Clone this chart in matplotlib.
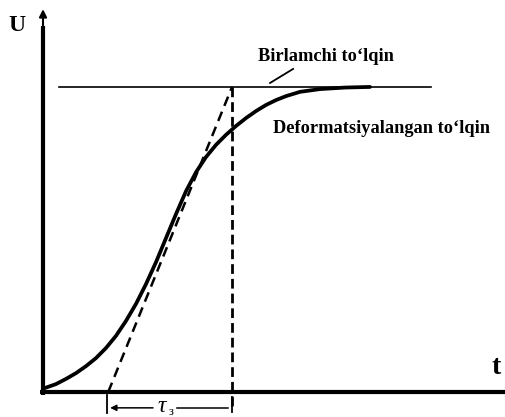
import matplotlib
matplotlib.use("Agg")
import matplotlib.pyplot as plt

# Distorted (deformed) wave front U(t), normalised so the steady level is 1
t_curve = [0.01, 0.069, 0.122, 0.175, 0.228, 0.280, 0.333, 0.386, 0.439,
           0.492, 0.545, 0.598, 0.651, 0.704, 0.757, 0.810, 0.862, 0.915,
           0.968, 1.021, 1.074, 1.127, 1.180, 1.233, 1.286, 1.360, 1.466,
           1.598, 1.730]
u_curve = [0.013, 0.026, 0.043, 0.062, 0.085, 0.111, 0.144, 0.184, 0.233,
           0.289, 0.354, 0.426, 0.505, 0.584, 0.659, 0.721, 0.770, 0.810,
           0.843, 0.872, 0.898, 0.921, 0.941, 0.957, 0.970, 0.984, 0.993,
           0.998, 1.0]

# Steady level of the original wave
u_level = 1.0
level_span = [0.085, 2.05]

# Tangent to the front: starts at t_start, reaches the level at t_end
t_start = 0.345
t_end = 1.0

label_primary = "Birlamchi to‘lqin"
label_deformed = "Deformatsiyalangan to‘lqin"
label_u = "U"
label_t = "t"
label_tau = "τ"
label_tau_sub = "з"

serif = ["Liberation Serif", "DejaVu Serif"]

fig = plt.figure(figsize=(5.05, 4.17), dpi=100)
ax = fig.add_axes([0, 0, 1, 1])
ax.set_xlim(-0.2275, 2.444)
ax.set_ylim(-0.082, 1.285)
ax.axis("off")

# Axes drawn as thick lines, with an arrow on U
ax.plot([-0.016, 2.444], [0, 0], color="black", lw=3.0, solid_capstyle="butt")
ax.plot([0, 0], [-0.01, 1.20], color="black", lw=3.0, solid_capstyle="butt")
ax.annotate("", xy=(0, 1.255), xytext=(0, 1.17),
            arrowprops=dict(arrowstyle="-|>", color="black", lw=1.5,
                            mutation_scale=11, shrinkA=0, shrinkB=0))

# Level of the original wave
ax.plot(level_span, [u_level, u_level], color="black", lw=1.2)

# Tangent and projection of its end on the time axis
ax.plot([t_start, t_end], [0, u_level], color="black", lw=1.8,
        dashes=(4, 2.5))
ax.plot([t_end, t_end], [u_level, -0.059], color="black", lw=2.0,
        dashes=(3.5, 1.8))

# Deformed wave
ax.plot(t_curve, u_curve, color="black", lw=2.7, solid_capstyle="round",
        solid_joinstyle="round")

# Labels
ax.text(1.138, 1.100, label_primary, family=serif, weight="bold",
        fontsize=13.2, ha="left", va="center")
ax.plot([1.201, 1.323], [1.013, 1.059], color="black", lw=1.3)
ax.text(1.217, 0.864, label_deformed, family=serif, weight="bold",
        fontsize=13.2, ha="left", va="center")
ax.text(-0.138, 1.203, label_u, family=serif, weight="bold", fontsize=17,
        ha="center", va="center")
ax.text(2.397, 0.079, label_t, family=serif, weight="bold", fontsize=20,
        ha="center", va="center")

# Time-constant marker under the axis
y_tau = -0.052
ax.plot([t_start - 0.005, t_start - 0.005], [-0.01, -0.07], color="black",
        lw=1.3)
ax.plot([t_end, t_end], [-0.015, -0.065], color="black", lw=1.3)
ax.annotate("", xy=(t_start + 0.01, y_tau), xytext=(0.582, y_tau),
            arrowprops=dict(arrowstyle="-|>", color="black", lw=1.1,
                            mutation_scale=9, shrinkA=0, shrinkB=0))
ax.plot([0.709, t_end - 0.02], [y_tau, y_tau], color="black", lw=1.1)
ax.text(0.63, y_tau + 0.004, label_tau, family=serif, fontsize=17,
        style="italic", ha="center", va="center")
ax.text(0.677, y_tau - 0.012, label_tau_sub, family=serif, fontsize=9,
        ha="center", va="center")

fig.savefig("out.png", dpi=100)
